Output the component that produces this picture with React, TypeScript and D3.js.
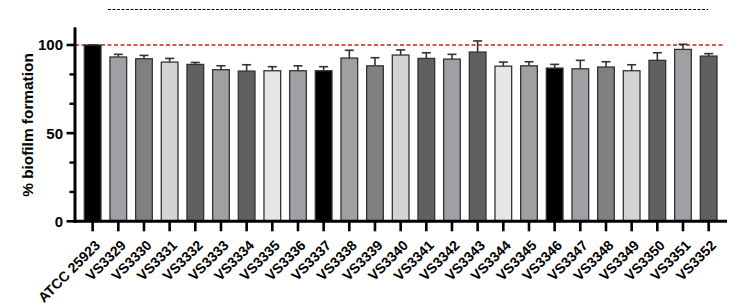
import React from "react";
import * as d3 from "d3";

const categories = ["ATCC 25923","VS3329","VS3330","VS3331","VS3332","VS3333","VS3334","VS3335","VS3336","VS3337","VS3338","VS3339","VS3340","VS3341","VS3342","VS3343","VS3344","VS3345","VS3346","VS3347","VS3348","VS3349","VS3350","VS3351","VS3352"];
const means = [100,93.2,92.2,90.3,89.0,86.0,85.2,85.4,85.4,85.4,92.6,88.2,94.3,92.4,92.0,96.0,88.0,88.2,86.9,86.5,87.5,85.4,91.3,97.5,93.7];
const errTops = [100,94.7,94.1,92.4,90.1,88.2,88.8,87.7,88.2,87.7,97.0,92.8,97.2,95.6,94.7,102.3,90.3,90.5,89.0,91.3,90.5,88.8,95.6,100.4,95.1];
const fills = ["#000000","#a0a0a4","#808080","#d4d4d4","#606060","#a0a0a4","#606060","#e6e6e6","#a0a0a4","#000000","#a0a0a4","#808080","#d4d4d4","#606060","#a0a0a4","#606060","#e6e6e6","#a0a0a4","#000000","#a0a0a4","#808080","#d4d4d4","#606060","#a0a0a4","#606060"];
const majorTicks = [0,50,100];
const minorTicks = [16.67,33.33,66.67,83.33];
const yMax = 110;
const refValue = 100;

export default function App() {
  const W = 742, H = 308;
  const axisX = 75, axisY = 221.3;
  const y = d3.scaleLinear().domain([0, yMax]).range([axisY, axisY - yMax * 1.763]);
  const x = d3.scaleBand<string>().domain(categories).range([79.8, 721.5]).paddingInner(0.35).paddingOuter(0.175);
  const bw = x.bandwidth();
  const cx = (c: string) => (x(c) as number) + bw / 2;
  const font = "Arial, 'Liberation Sans', Helvetica, sans-serif";
  return (
    <svg width={W} height={H} style={{ position: "absolute", left: 0, top: 0, background: "#fff" }} fontFamily={font}>
      {/* significance dashed line */}
      <line x1={108} x2={708} y1={9.5} y2={9.5} stroke="#000" strokeWidth={1} strokeDasharray="3,1.5" />
      {/* reference line */}
      <line x1={axisX} x2={725} y1={y(refValue)} y2={y(refValue)} stroke="#d02020" strokeWidth={1.3} strokeDasharray="4,2.5" />
      {categories.map((c, i) => (
        <g key={c}>
          <line x1={cx(c)} x2={cx(c)} y1={y(means[i])} y2={y(errTops[i])} stroke="#333" strokeWidth={1.6} />
          <line x1={cx(c) - 4.5} x2={cx(c) + 4.5} y1={y(errTops[i])} y2={y(errTops[i])} stroke="#333" strokeWidth={1.6} />
          <rect x={x(c)} y={y(means[i])} width={bw} height={axisY - y(means[i])} fill={fills[i]} stroke="#333" strokeWidth={1.3} />
        </g>
      ))}
      {/* y axis */}
      <line x1={axisX} x2={axisX} y1={y(yMax)} y2={axisY + 1.5} stroke="#000" strokeWidth={3} />
      {majorTicks.map(t => (
        <g key={t}>
          <line x1={66.5} x2={axisX} y1={y(t)} y2={y(t)} stroke="#000" strokeWidth={2.6} />
          <text x={63} y={y(t)} dy="0.36em" textAnchor="end" fontSize={15} fontWeight="bold">{t}</text>
        </g>
      ))}
      {minorTicks.map(t => (
        <line key={t} x1={69.5} x2={axisX} y1={y(t)} y2={y(t)} stroke="#000" strokeWidth={2.4} />
      ))}
      <text transform={`translate(32.5,${125}) rotate(-90)`} textAnchor="middle" fontSize={15.4} fontWeight="bold">% biofilm formation</text>
      {/* x axis */}
      <line x1={axisX - 1.5} x2={727} y1={axisY} y2={axisY} stroke="#000" strokeWidth={3} />
      {categories.map(c => (
        <g key={c}>
          <line x1={cx(c)} x2={cx(c)} y1={axisY} y2={axisY + 10} stroke="#000" strokeWidth={2.6} />
          <text transform={`translate(${cx(c) + 5},${axisY + 21.5}) rotate(-45)`} textAnchor="end" dy="0.35em" fontSize={14} fontWeight="bold">{c}</text>
        </g>
      ))}
    </svg>
  );
}
